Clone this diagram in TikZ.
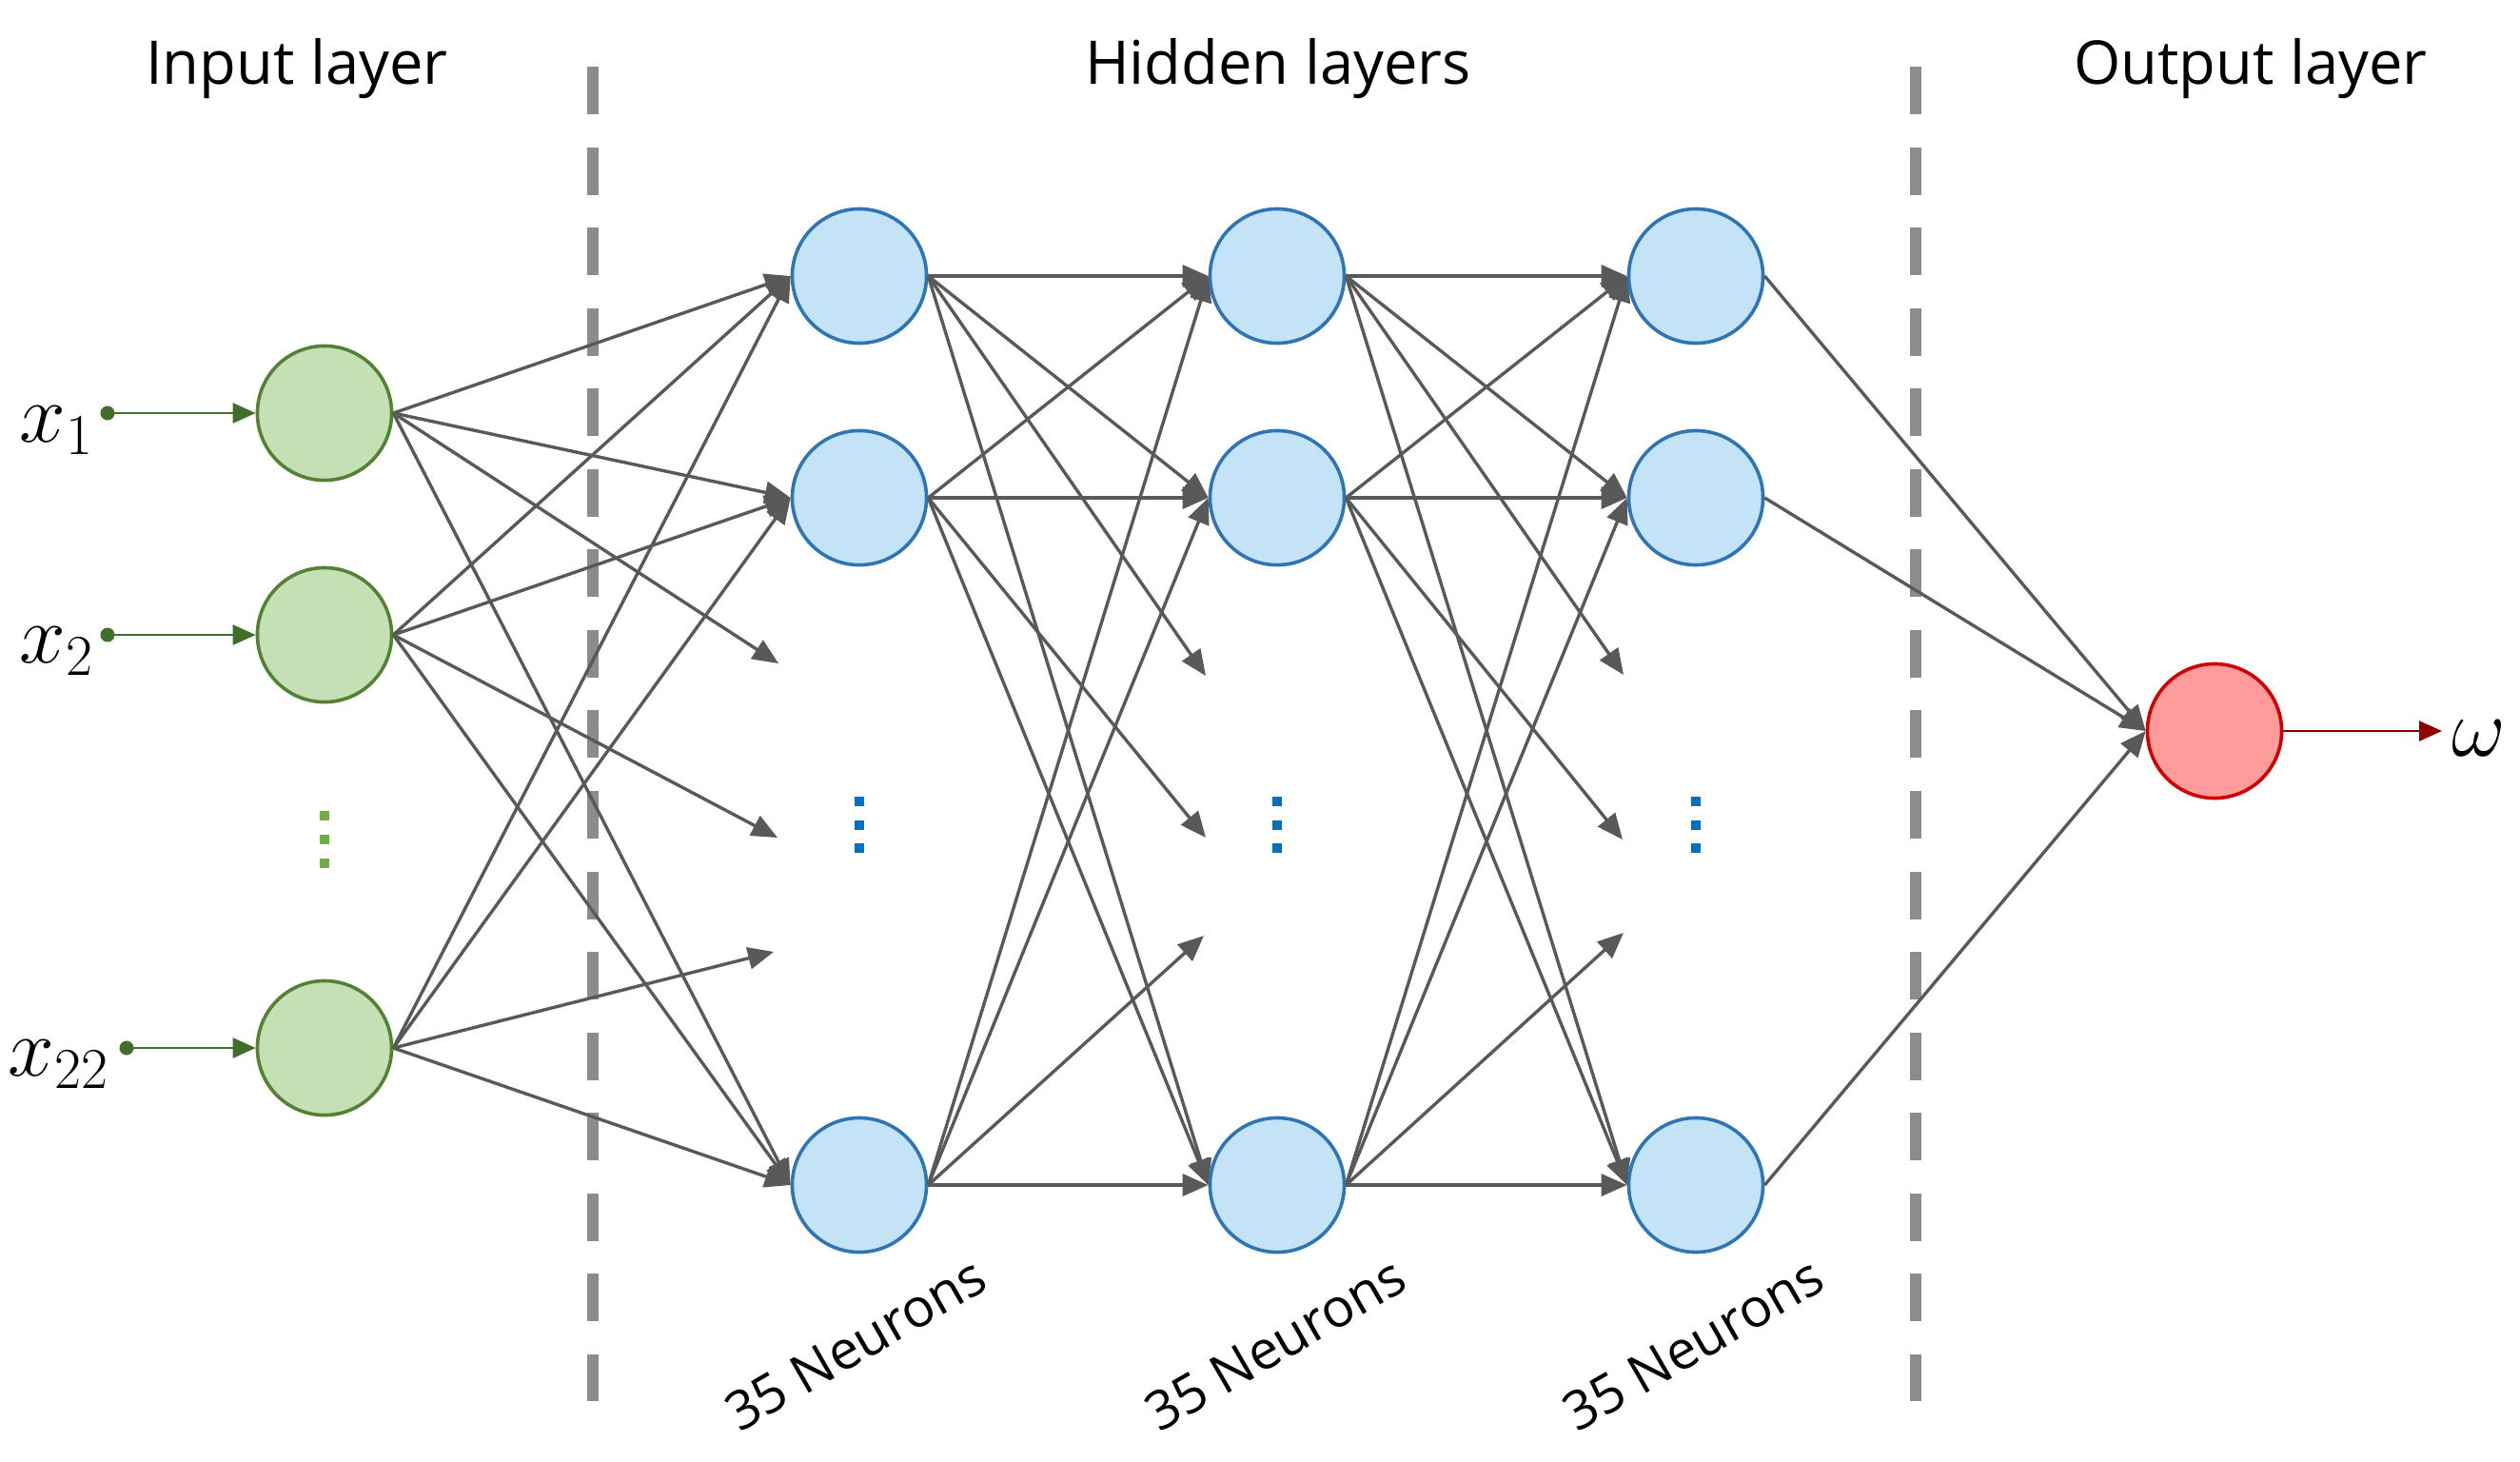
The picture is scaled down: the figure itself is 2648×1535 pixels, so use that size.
\documentclass[tikz,border=0pt]{standalone}
\usepackage{fontspec}
\setmainfont{Open Sans}
\usetikzlibrary{arrows.meta}
\definecolor{edgegray}{HTML}{595959}
\definecolor{ingreen}{HTML}{C5E0B4}
\definecolor{ingreenD}{HTML}{548235}
\definecolor{hidblue}{HTML}{C5E3F7}
\definecolor{hidblueD}{HTML}{2E75B6}
\definecolor{outred}{HTML}{FF9B9B}
\definecolor{outredD}{HTML}{D00000}
\definecolor{dashgray}{HTML}{8C8C8C}
\definecolor{dotblue}{HTML}{0070C0}
\definecolor{dotgreen}{HTML}{70AD47}
\definecolor{arrowgreen}{HTML}{3F6F2A}
\definecolor{outarrow}{HTML}{8B0000}
\tikzset{
  neuron/.style={circle, inner sep=0pt, minimum size=1.41cm, line width=0.036cm},
  nin/.style={neuron, draw=ingreenD, fill=ingreen},
  nhid/.style={neuron, draw=hidblueD, fill=hidblue},
  nout/.style={neuron, draw=outredD, fill=outred},
  conn/.style={draw=edgegray, line width=0.034cm, -{Triangle[length=0.27cm,width=0.23cm]}},
  inarrow/.style={draw=arrowgreen, line width=0.025cm, -{Triangle[length=0.24cm,width=0.21cm]}},
  outarr/.style={draw=outarrow, line width=0.025cm, -{Triangle[length=0.24cm,width=0.21cm]}},
  divider/.style={draw=dashgray, line width=0.12cm, dash pattern=on 0.5cm off 0.345cm},
  title/.style={font=\fontsize{18}{22}\selectfont, inner sep=0pt},
  count/.style={font=\fontsize{16}{20}\selectfont, inner sep=0pt, rotate=30},
  mlabel/.style={font=\fontsize{26}{30}\selectfont, inner sep=0pt},
}
\begin{document}
\begin{tikzpicture}[x=0.01cm, y=-0.01cm]
\useasboundingbox (0,0) rectangle (2648,1535);

% titles
\node[title] (tin) at (312,72) {Input layer};
\node[title] (thid) at (1343,72) {Hidden layers};
\node[title] (tout) at (2365,72) {Output layer};

% dividers
\coordinate (d1t) at (623,70); \coordinate (d1b) at (623,1472);
\coordinate (d2t) at (2013,70); \coordinate (d2b) at (2013,1472);
\draw[divider] (d1t) -- (d1b);
\draw[divider] (d2t) -- (d2b);

% input layer
\node[nin] (ia) at (341,434) {};
\node[nin] (ib) at (341,667) {};
\node[nin] (id) at (341,1101) {};

% hidden layers
\foreach \n/\x in {h1/903, h2/1342, h3/1782} {
  \node[nhid] (\n a) at (\x,290) {};
  \node[nhid] (\n b) at (\x,523) {};
  \node[nhid] (\n d) at (\x,1245) {};
  \foreach \yy in {842,867,891} {
    \fill[dotblue] (\x-5,\yy-5) rectangle (\x+5,\yy+5);
  }
}
\foreach \yy in {857,882,907} {
  \fill[dotgreen] (341-5,\yy-5) rectangle (341+5,\yy+5);
}

% output
\node[nout] (out) at (2327,768) {};

% free arrow ends
\coordinate (p1a) at (818,697);  \coordinate (p1b) at (817,880);  \coordinate (p1c) at (813,1000);
\coordinate (p2a) at (1267,710); \coordinate (p2b) at (1267,880); \coordinate (p2c) at (1265,983);
\coordinate (p3a) at (1706,709); \coordinate (p3b) at (1705,882); \coordinate (p3c) at (1706,980);

% connections
\foreach \s/\t/\p in {i/h1/p1, h1/h2/p2, h2/h3/p3} {
  \foreach \u/\q in {a/a, b/b, d/c} {
    \draw[conn] (\s\u.east) -- (\t a.west);
    \draw[conn] (\s\u.east) -- (\t b.west);
    \draw[conn] (\s\u.east) -- (\t d.west);
    \draw[conn] (\s\u.east) -- (\p\q);
  }
}
\foreach \u in {a,b,d} {
  \draw[conn] (h3\u.east) -- (out.west);
}

% inputs
\coordinate (xa) at (113,434);
\coordinate (xb) at (113,667);
\coordinate (xd) at (133,1101);
\foreach \u in {a,b,d} {
  \fill[arrowgreen] (x\u) circle (0.075cm);
  \draw[inarrow] (x\u) -- (i\u.west);
}
\node[mlabel] (lx1) at (60,452) {$x_1$};
\node[mlabel] (lx2) at (60,684) {$x_2$};
\node[mlabel] (lx22) at (62,1118) {$x_{22}$};

% output arrow
\coordinate (oend) at (2566,768);
\draw[outarr] (out.east) -- (oend);
\node[mlabel] (lw) at (2605,776) {$\omega$};

% neuron counts
\node[count] (c1) at (899,1412) {35 Neurons};
\node[count] (c2) at (1340,1412) {35 Neurons};
\node[count] (c3) at (1779,1412) {35 Neurons};
\end{tikzpicture}
\end{document}
